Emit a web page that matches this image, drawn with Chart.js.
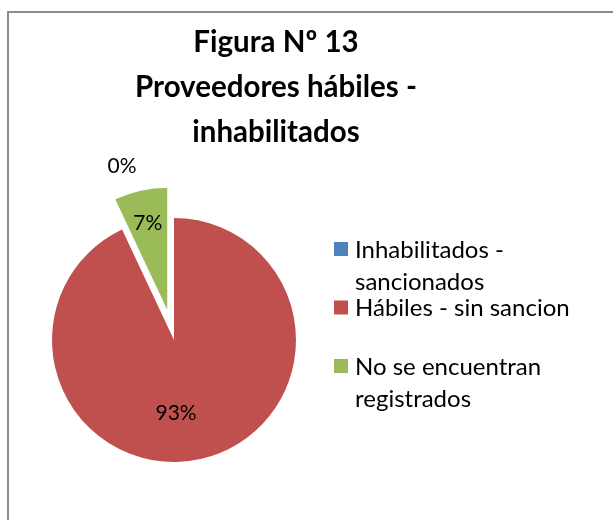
<!DOCTYPE html>
<html>
<head>
<meta charset="utf-8">
<script src="https://cdn.jsdelivr.net/npm/chart.js@4.4.1/dist/chart.umd.min.js"></script>
<style>
	html, body { margin: 0; padding: 0; background: #fff; overflow: hidden; }
	#wrap { position: relative; width: 613px; height: 520px; }
	#frame { position: absolute; left: 7px; top: 11px; width: 700px; height: 600px; border: 2px solid #8c8c8c; box-sizing: border-box; }
	#mycanvas { position: absolute; left: 0; top: 0; }
</style>
</head>
<body>
<div id="wrap">
	<div id="frame"></div>
	<canvas id="mycanvas" width="613" height="520"></canvas>
</div>
<script>
var titleLines = ['Figura Nº 13', 'Proveedores hábiles -', 'inhabilitados'];
var categories = ['Inhabilitados - sancionados', 'Hábiles - sin sancion', 'No se encuentran registrados'];
var percentages = [0, 93, 7];
var colors = ['#4F81BD', '#C0504D', '#9BBB59'];

// how far each slice is pulled out (px)
var explode = [0, 0, 31];
// data label placement: turn from slice middle (deg) and distance as part of radius
var labelTurn = [-16.6, 11, 0];
var labelDist = [1.49, 0.6, 0.73];

function wrapText(ctx, text, maxW) {
	var words = text.split(' ');
	var lines = [];
	var line = '';
	for (var i = 0; i < words.length; i++) {
		var test = line ? line + ' ' + words[i] : words[i];
		if (line && ctx.measureText(test).width > maxW) {
			lines.push(line);
			line = words[i];
		} else {
			line = test;
		}
	}
	lines.push(line);
	return lines;
}

// legend on the right, as a layout box so the title stays centred on the whole width
var sideLegend = {
	id: 'sideLegend',
	beforeInit: function(chart) {
		var box = {
			position: 'right',
			weight: 10,
			fullSize: false,
			options: {},
			isHorizontal: function() { return false; },
			update: function(maxWidth, maxHeight) {
				this.width = 204;
				this.height = maxHeight;
			},
			draw: function() {
				var ctx = chart.ctx;
				var ds = chart.data.datasets[0];
				var area = chart.chartArea;
				var y = (area.top + area.bottom) / 2 - 98;
				ctx.save();
				ctx.font = '24px Lato';
				ctx.textAlign = 'left';
				ctx.textBaseline = 'alphabetic';
				chart.data.labels.forEach(function(label, i) {
					var lines = wrapText(ctx, label, 232);
					ctx.fillStyle = ds.backgroundColor[i];
					ctx.fillRect(box.left, y, 14, 14);
					ctx.fillStyle = '#000';
					lines.forEach(function(line, k) {
						ctx.fillText(line, box.left + 21, y + 16 + k * 32);
					});
					y += 58.5;
				});
				ctx.restore();
			}
		};
		Chart.layouts.addBox(chart, box);
	}
};

var explodePlugin = {
	id: 'explodeSlices',
	afterDatasetsUpdate: function(chart) {
		var meta = chart.getDatasetMeta(0);
		meta.data.forEach(function(arc, i) {
			if (!explode[i]) return;
			var mid = (arc.startAngle + arc.endAngle) / 2;
			arc.x += Math.cos(mid) * explode[i];
			arc.y += Math.sin(mid) * explode[i];
		});
	}
};

var pctLabels = {
	id: 'pctLabels',
	afterDatasetsDraw: function(chart) {
		var ctx = chart.ctx;
		var meta = chart.getDatasetMeta(0);
		var data = chart.data.datasets[0].data;
		var total = data.reduce(function(a, b) { return a + b; }, 0);
		ctx.save();
		ctx.font = '21px Lato';
		ctx.fillStyle = '#000';
		ctx.textAlign = 'center';
		ctx.textBaseline = 'middle';
		meta.data.forEach(function(arc, i) {
			var a = (arc.startAngle + arc.endAngle) / 2 + labelTurn[i] * Math.PI / 180;
			var r = arc.outerRadius * labelDist[i];
			var txt = Math.round(data[i] / total * 100) + '%';
			ctx.fillText(txt, arc.x + Math.cos(a) * r, arc.y + Math.sin(a) * r);
		});
		ctx.restore();
	}
};

var ctx = document.getElementById('mycanvas');

var pieChart = new Chart(ctx, {
	type: 'pie',
	data: {
		labels: categories,
		datasets: [{
			data: percentages,
			backgroundColor: colors,
			borderWidth: 0,
			radius: 122
		}]
	},
	options: {
		responsive: false,
		animation: false,
		events: [],
		layout: { padding: { left: 14, right: 75, top: 0, bottom: 0 } },
		plugins: {
			legend: { display: false },
			tooltip: { enabled: false },
			title: {
				display: true,
				text: titleLines,
				color: '#000',
				font: { family: 'Lato', size: 29.5, weight: 'bold', lineHeight: 1.525 },
				padding: { top: 20, bottom: 5 }
			}
		}
	},
	plugins: [sideLegend, explodePlugin, pctLabels]
});
</script>
</body>
</html>
